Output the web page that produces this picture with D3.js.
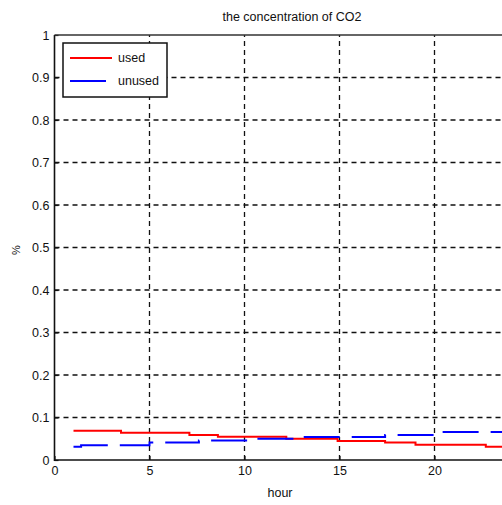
<!DOCTYPE html>
<html><head><meta charset="utf-8">
<script src="https://cdn.jsdelivr.net/npm/d3@7"></script>
<style>body{margin:0;background:#fff;overflow:hidden}</style>
</head><body>
<script>
// ---- data ----
const titleText = "the concentration of CO2";
const xLabel = "hour";
const yLabel = "%";
const seriesNames = ["used", "unused"];
const seriesColors = ["#ff0000", "#0000ff"];
const xTicks = [0, 5, 10, 15, 20];
const yTicks = [0, 0.1, 0.2, 0.3, 0.4, 0.5, 0.6, 0.7, 0.8, 0.9, 1];
const yTickLabels = ["0", "0.1", "0.2", "0.3", "0.4", "0.5", "0.6", "0.7", "0.8", "0.9", "1"];
const usedHours  = [1, 3.5, 7.1, 8.6, 12.2, 14.9, 17.4, 19.0, 22.7, 24];
const usedValues = [0.069, 0.064, 0.059, 0.055, 0.050, 0.045, 0.041, 0.036, 0.031, 0.031];
const unusedHours  = [1, 1.4, 5.0, 7.6, 10.2, 13.0, 17.4, 20.0, 24];
const unusedValues = [0.031, 0.035, 0.041, 0.046, 0.050, 0.054, 0.059, 0.066, 0.066];

const W = 502, H = 505;
const svg = d3.select("body").append("svg").attr("width", W).attr("height", H)
  .style("font-family", "'Liberation Sans', Arial, sans-serif");

const x = d3.scaleLinear().domain([0, 25]).range([54.5, 54.5 + 25 * 19]);
const y = d3.scaleLinear().domain([0, 1]).range([460, 35]);
const [x0, x1] = x.range();
const [yb, yt] = y.range();

// grid
const grid = svg.append("g").attr("stroke", "#111").attr("stroke-width", 1.3).attr("stroke-dasharray", "5,4");
grid.selectAll("line.v").data(xTicks.filter(d => d > 0)).join("line")
  .attr("x1", d => x(d)).attr("x2", d => x(d)).attr("y1", yb).attr("y2", yt);
grid.selectAll("line.h").data(yTicks.filter(d => d > 0 && d < 1)).join("line")
  .attr("x1", x0).attr("x2", x1).attr("y1", d => y(d)).attr("y2", d => y(d));

// series
const line = d3.line().x(d => x(d[0])).y(d => y(d[1])).curve(d3.curveStepAfter);
const usedData = usedHours.map((h, i) => [h, usedValues[i]]);
const unusedData = unusedHours.map((h, i) => [h, unusedValues[i]]);
svg.append("path").datum(usedData).attr("d", line).attr("fill", "none")
  .attr("stroke", seriesColors[0]).attr("stroke-width", 2);
svg.append("path").datum(unusedData).attr("d", line).attr("fill", "none")
  .attr("stroke", seriesColors[1]).attr("stroke-width", 2).attr("stroke-dasharray", "36,12");

// axes
const fs = "12.5px";
const yAxis = svg.append("g").attr("transform", `translate(${x0},0)`)
  .call(d3.axisLeft(y).tickValues(yTicks).tickFormat((d, i) => yTickLabels[i]).tickSize(-4).tickPadding(5));
const xAxis = svg.append("g").attr("transform", `translate(0,${yb})`)
  .call(d3.axisBottom(x).tickValues(xTicks).tickFormat(d3.format("d")).tickSize(-4).tickPadding(6));
[yAxis, xAxis].forEach(g => {
  g.select(".domain").remove();
  g.selectAll("line").attr("stroke", "#111").attr("stroke-width", 1.2);
  g.selectAll("text").style("font-size", fs).style("font-family", "'Liberation Sans', Arial, sans-serif").attr("fill", "#111");
});

// box lines
svg.append("line").attr("x1", x0).attr("x2", x0).attr("y1", yt).attr("y2", yb + 1).attr("stroke", "#111").attr("stroke-width", 1.6);
svg.append("line").attr("x1", x0).attr("x2", x1).attr("y1", yb).attr("y2", yb).attr("stroke", "#111").attr("stroke-width", 1.6);
svg.append("line").attr("x1", x0).attr("x2", x1).attr("y1", yt).attr("y2", yt).attr("stroke", "#333").attr("stroke-width", 1.6);

// title and labels
svg.append("text").attr("x", (x0 + x1) / 2).attr("y", 21).attr("text-anchor", "middle")
  .style("font-size", fs).attr("fill", "#111").text(titleText);
svg.append("text").attr("x", 280).attr("y", 497).attr("text-anchor", "middle")
  .style("font-size", fs).attr("fill", "#111").text(xLabel);
svg.append("text").attr("transform", "translate(20,250) rotate(-90)").attr("text-anchor", "middle")
  .style("font-size", "11px").attr("fill", "#111").text(yLabel);

// legend
const lg = svg.append("g");
lg.append("rect").attr("x", 63).attr("y", 43).attr("width", 104).attr("height", 54)
  .attr("fill", "#fff").attr("stroke", "#111").attr("stroke-width", 1.5);
seriesNames.forEach((name, i) => {
  const yy = 58 + i * 23;
  lg.append("line").attr("x1", 70).attr("x2", 112).attr("y1", yy).attr("y2", yy)
    .attr("stroke", seriesColors[i]).attr("stroke-width", 2)
    .attr("stroke-dasharray", i === 1 ? "36,12" : null);
  lg.append("text").attr("x", 118).attr("y", yy).attr("dy", "0.35em")
    .style("font-size", fs).attr("fill", "#111").text(name);
});
</script>
</body></html>
